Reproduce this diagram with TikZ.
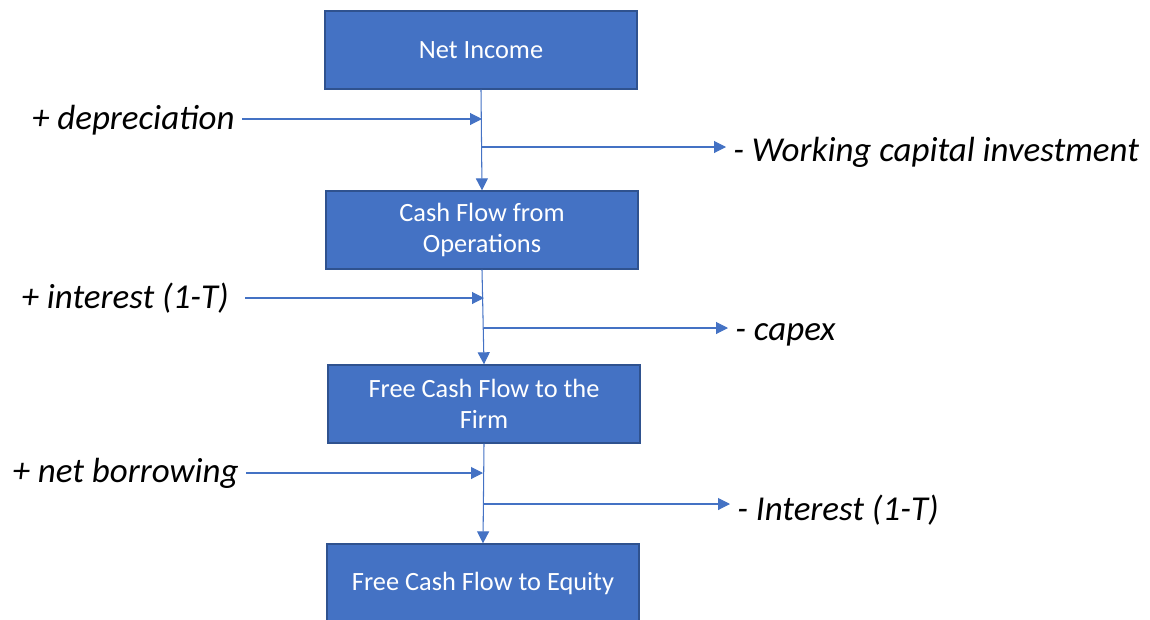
\documentclass[tikz,border=0pt]{standalone}
\usepackage{fontspec}
\setmainfont{Carlito}
\usetikzlibrary{arrows.meta}
\definecolor{boxblue}{HTML}{4472C4}
\definecolor{boxedge}{HTML}{2F528F}

\begin{document}
\begin{tikzpicture}[x=0.02cm,y=-0.02cm,
  box/.style={rectangle,draw=boxedge,fill=boxblue,line width=0.8pt,text=white,align=center,
    minimum width=6.24cm,minimum height=1.56cm,font=\fontsize{15}{17.6}\selectfont},
  lbl/.style={inner sep=4pt,font=\fontsize{19.9}{23}\selectfont\itshape},
  flow/.style={-{Triangle[length=0.24cm,width=0.24cm]},draw=boxblue,line width=0.6pt}]
  \useasboundingbox (0,0) rectangle (1150,619);

  % the four stages
  \node [box] (ni_box) at (481,50) {Net Income};
  \node [box] (cfo_box) at (482,230) {Cash Flow from\\Operations};
  \node [box] (fcff_box) at (484,404) {Free Cash Flow to the\\Firm};
  \node [box] (fcfe_box) at (483,583) {Free Cash Flow to Equity};

  % points on the main line
  \coordinate (dep_in) at (482,119);
  \coordinate (wc_out) at (482,147);
  \coordinate (int_in) at (484,298);
  \coordinate (capex_out) at (484,328);
  \coordinate (bor_in) at (483,473);
  \coordinate (intr_out) at (483,504);

  % side labels
  \node [lbl,anchor=east] (dep_label) at (242,120) {+ depreciation};
  \node [lbl,anchor=west] (wc_label) at (726,152) {- Working capital investment};
  \node [lbl,anchor=east,inner xsep=9pt] (int_label) at (245,298) {+ interest (1-T)};
  \node [lbl,anchor=west] (capex_label) at (728,335) {- capex};
  \node [lbl,anchor=east] (bor_label) at (246,473) {+ net borrowing};
  \node [lbl,anchor=west] (intr_label) at (730,510) {- Interest (1-T)};

  \draw [flow] (ni_box.south) -- (cfo_box.north);
  \draw [flow] (cfo_box.south) -- (fcff_box.north);
  \draw [flow] (fcff_box.south) -- (fcfe_box.north);

  \draw [flow] (dep_label.east |- dep_in) -- (dep_in);
  \draw [flow] (wc_out) -- (wc_label.west |- wc_out);
  \draw [flow] (int_label.east |- int_in) -- (int_in);
  \draw [flow] (capex_out) -- (capex_label.west |- capex_out);
  \draw [flow] (bor_label.east |- bor_in) -- (bor_in);
  \draw [flow] (intr_out) -- (intr_label.west |- intr_out);
\end{tikzpicture}
\end{document}
